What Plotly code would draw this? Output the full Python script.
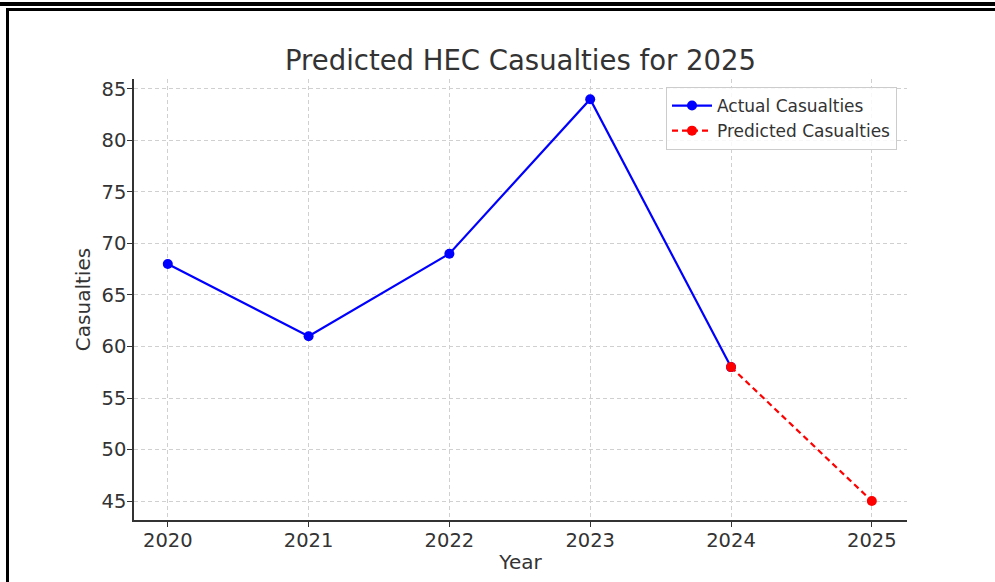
import plotly.graph_objects as go

years_actual = [2020, 2021, 2022, 2023, 2024]
casualties_actual = [68, 61, 69, 84, 58]
years_pred = [2024, 2025]
casualties_pred = [58, 45]
y_ticks = [45, 50, 55, 60, 65, 70, 75, 80, 85]
x_ticks = [2020, 2021, 2022, 2023, 2024, 2025]

FONT = "DejaVu Sans"
TXT = "#333333"

fig = go.Figure()
fig.add_trace(go.Scatter(
    x=years_actual, y=casualties_actual, mode="lines+markers",
    name="Actual Casualties",
    line=dict(color="#0000ff", width=2.2),
    marker=dict(color="#0000ff", size=10),
))
fig.add_trace(go.Scatter(
    x=years_pred, y=casualties_pred, mode="lines+markers",
    name="Predicted Casualties",
    line=dict(color="#ff0000", width=2.2, dash="6px,4px"),
    marker=dict(color="#ff0000", size=10),
))

W, H = 995, 582
L, R, T, B = 134, 88, 79, 62
PW, PH = W - L - R, H - T - B

fig.update_layout(
    width=W, height=H,
    margin=dict(l=L, r=R, t=T, b=B, pad=0),
    paper_bgcolor="white", plot_bgcolor="white",
    font=dict(family=FONT, color=TXT, size=19),
    title=dict(text="Predicted HEC Casualties for 2025", x=(L + (W - R)) / 2 / W,
               xanchor="center", y=1 - 60 / H, yanchor="middle",
               font=dict(size=27.5, color=TXT, family=FONT)),
    showlegend=True,
    legend=dict(x=(897 - L) / PW, y=1 - (87 - T) / PH, xanchor="right", yanchor="top",
                bgcolor="rgba(255,255,255,0.85)", bordercolor="#cccccc", borderwidth=1,
                font=dict(size=17, color=TXT, family=FONT),
                itemwidth=40, tracegroupgap=0),
    xaxis=dict(range=[2019.76, 2025.25], tickmode="array", tickvals=x_ticks,
               ticktext=[str(v) for v in x_ticks],
               showgrid=True, gridcolor="#d0d0d0", griddash="4px,3px", gridwidth=1,
               showline=True, linecolor="#333333", linewidth=1.5,
               ticks="outside", ticklen=5, tickcolor="#333333",
               zeroline=False, mirror=False, ticklabelstandoff=-3,
               title=dict(text="Year", font=dict(size=20, color=TXT), standoff=4),
               tickfont=dict(size=19.5, color=TXT)),
    yaxis=dict(range=[43.16, 85.96], tickmode="array", tickvals=y_ticks,
               showgrid=True, gridcolor="#d0d0d0", griddash="4px,3px", gridwidth=1,
               showline=True, linecolor="#333333", linewidth=1.5,
               ticks="outside", ticklen=5, tickcolor="#333333",
               zeroline=False, mirror=False, ticklabelstandoff=-3,
               title=dict(text="Casualties", font=dict(size=20, color=TXT), standoff=6),
               tickfont=dict(size=19.5, color=TXT)),
    shapes=[
        dict(type="rect", xref="paper", yref="paper",
             x0=-L / PW, x1=(W - L) / PW,
             y0=1 + (T - 6) / PH, y1=1 + (T - 2) / PH,
             fillcolor="black", line=dict(width=0), layer="above"),
        dict(type="rect", xref="paper", yref="paper",
             x0=(6 - L) / PW, x1=(W - L) / PW,
             y0=1 + (T - 11) / PH, y1=1 + (T - 8) / PH,
             fillcolor="black", line=dict(width=0), layer="above"),
        dict(type="rect", xref="paper", yref="paper",
             x0=(6 - L) / PW, x1=(9 - L) / PW,
             y0=-B / PH, y1=1 + (T - 8) / PH,
             fillcolor="black", line=dict(width=0), layer="above"),
    ],
)

fig.write_html("out.html", config={"displayModeBar": False},
               post_script="document.body.style.margin='0';document.body.style.overflow='hidden';")
